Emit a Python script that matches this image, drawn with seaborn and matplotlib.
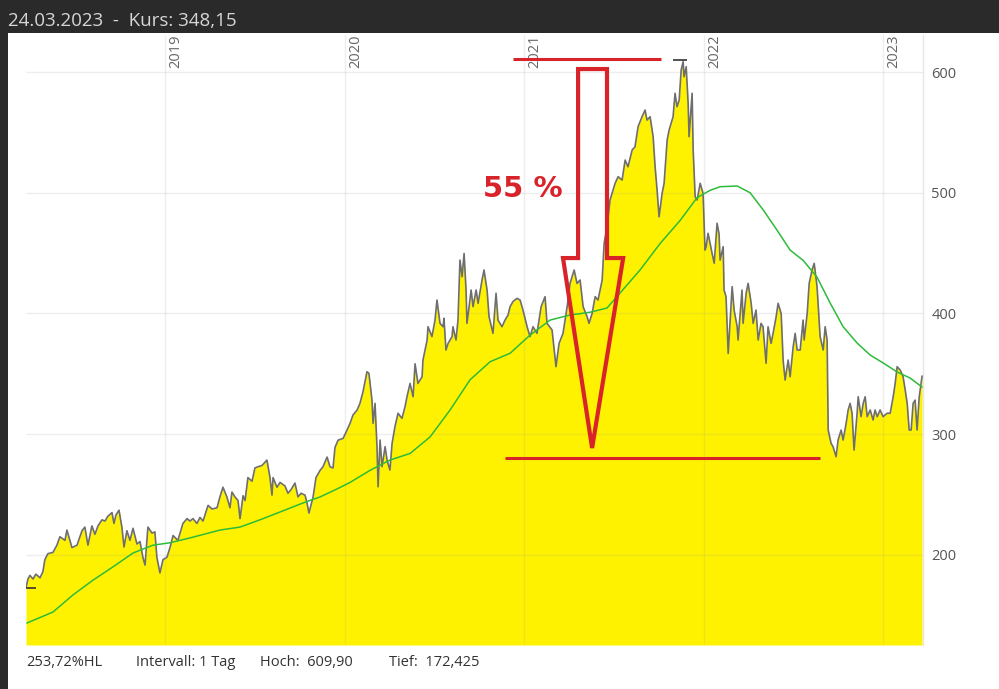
import matplotlib
matplotlib.use("Agg")
import matplotlib.pyplot as plt
from matplotlib.patches import Polygon, Rectangle
import seaborn as sns
import pandas as pd

# ---------------- data ----------------
price_t = [
    2018.226, 2018.237, 2018.248, 2018.265, 2018.281, 2018.304, 2018.320, 2018.331, 2018.348, 2018.376,
    2018.398, 2018.415, 2018.443, 2018.454, 2018.482, 2018.510, 2018.538, 2018.554, 2018.571, 2018.593,
    2018.610, 2018.627, 2018.649, 2018.666, 2018.682, 2018.705, 2018.716, 2018.727, 2018.744, 2018.760,
    2018.772, 2018.788, 2018.805, 2018.822, 2018.844, 2018.861, 2018.877, 2018.889, 2018.905, 2018.928,
    2018.944, 2018.955, 2018.972, 2018.989, 2019.011, 2019.028, 2019.045, 2019.072, 2019.100, 2019.123,
    2019.139, 2019.156, 2019.178, 2019.195, 2019.212, 2019.240, 2019.262, 2019.290, 2019.306, 2019.323,
    2019.345, 2019.362, 2019.373, 2019.390, 2019.407, 2019.418, 2019.435, 2019.446, 2019.462, 2019.485,
    2019.501, 2019.518, 2019.540, 2019.568, 2019.585, 2019.596, 2019.602, 2019.624, 2019.641, 2019.669,
    2019.685, 2019.702, 2019.724, 2019.741, 2019.758, 2019.780, 2019.791, 2019.802, 2019.825, 2019.841,
    2019.864, 2019.880, 2019.903, 2019.919, 2019.936, 2019.947, 2019.964, 2019.992, 2020.014, 2020.031,
    2020.047, 2020.070, 2020.086, 2020.103, 2020.125, 2020.136, 2020.153, 2020.159, 2020.170, 2020.181,
    2020.187, 2020.198, 2020.209, 2020.226, 2020.237, 2020.253, 2020.265, 2020.281, 2020.298, 2020.320,
    2020.337, 2020.348, 2020.365, 2020.382, 2020.393, 2020.409, 2020.432, 2020.437, 2020.460, 2020.465,
    2020.487, 2020.504, 2020.515, 2020.532, 2020.549, 2020.554, 2020.565, 2020.577, 2020.599, 2020.604,
    2020.621, 2020.632, 2020.643, 2020.655, 2020.666, 2020.677, 2020.682, 2020.694, 2020.705, 2020.716,
    2020.733, 2020.744, 2020.766, 2020.777, 2020.794, 2020.805, 2020.827, 2020.844, 2020.855, 2020.877,
    2020.894, 2020.911, 2020.922, 2020.939, 2020.961, 2020.978, 2020.994, 2021.017, 2021.033, 2021.050,
    2021.072, 2021.095, 2021.117, 2021.128, 2021.156, 2021.178, 2021.195, 2021.217, 2021.240, 2021.256,
    2021.279, 2021.295, 2021.312, 2021.329, 2021.351, 2021.362, 2021.379, 2021.396, 2021.412, 2021.435,
    2021.446, 2021.462, 2021.479, 2021.507, 2021.524, 2021.546, 2021.563, 2021.579, 2021.602, 2021.618,
    2021.635, 2021.657, 2021.674, 2021.685, 2021.702, 2021.719, 2021.730, 2021.741, 2021.752, 2021.769,
    2021.780, 2021.797, 2021.808, 2021.830, 2021.841, 2021.852, 2021.864, 2021.875, 2021.886, 2021.891,
    2021.903, 2021.914, 2021.919, 2021.936, 2021.942, 2021.953, 2021.964, 2021.981, 2021.997, 2022.008,
    2022.014, 2022.025, 2022.047, 2022.059, 2022.075, 2022.086, 2022.092, 2022.109, 2022.114, 2022.125,
    2022.137, 2022.159, 2022.170, 2022.187, 2022.192, 2022.214, 2022.220, 2022.237, 2022.248, 2022.265,
    2022.276, 2022.292, 2022.304, 2022.320, 2022.331, 2022.348, 2022.359, 2022.376, 2022.387, 2022.404,
    2022.415, 2022.432, 2022.443, 2022.454, 2022.471, 2022.482, 2022.499, 2022.510, 2022.521, 2022.538,
    2022.554, 2022.560, 2022.577, 2022.588, 2022.604, 2022.616, 2022.632, 2022.649, 2022.666, 2022.677,
    2022.688, 2022.694, 2022.710, 2022.721, 2022.738, 2022.749, 2022.766, 2022.777, 2022.794, 2022.805,
    2022.816, 2022.827, 2022.838, 2022.855, 2022.861, 2022.877, 2022.889, 2022.900, 2022.911, 2022.928,
    2022.944, 2022.955, 2022.967, 2022.983, 2023.000, 2023.022, 2023.039, 2023.056, 2023.067, 2023.078,
    2023.095, 2023.111, 2023.123, 2023.134, 2023.145, 2023.156, 2023.167, 2023.178, 2023.189, 2023.201,
    2023.217,
]
price_v = [
    173, 180, 183, 180, 184, 181, 186, 196, 201, 202,
    208, 215, 212, 220.5, 206, 208, 220, 223, 208, 224,
    217, 224, 229, 228, 232, 235, 226, 233, 237, 223,
    206.5, 220, 212, 222, 209, 211, 198, 191.5, 223, 218,
    219, 198, 185, 196, 198, 206, 216, 212, 226, 230,
    228, 230, 226, 231, 228, 241, 238, 239, 248, 256,
    248, 239, 252, 248, 245, 230, 249, 245, 264, 261,
    272, 273, 274, 278.5, 264, 249.5, 264, 256, 260, 257,
    251, 254, 259.5, 248, 251, 249.5, 243, 234.6, 248, 264,
    270, 273, 281, 273, 272, 289, 295, 296.5, 303.4, 309,
    315.8, 320, 325.5, 335.1, 351.7, 350.4, 328.3, 309, 325.5, 289.6,
    256.4, 295.1, 273, 289.6, 278.5, 270.3, 292.4, 306.2, 317.3, 313.1,
    322.7, 331, 342, 331, 358.3, 342, 347.6, 361.4, 378, 389,
    380.8, 394.5, 411.1, 391.8, 389, 396, 369.7, 375.2, 380.8, 389,
    378, 394.5, 444.2, 430.4, 449.7, 419.4, 391.8, 405.6, 419.4, 405.6,
    419.4, 408.4, 427.7, 436, 419.4, 397.3, 383.5, 416.7, 394.5, 389,
    394.5, 398.7, 405.6, 410, 412.5, 411.1, 402.8, 389, 380.8, 389,
    383.5, 405.6, 413.9, 391.8, 386.3, 355.9, 375.2, 383.5, 405.6, 424.9,
    436, 424.9, 427.7, 405.6, 397.3, 391.8, 400, 413.9, 411.1, 427.7,
    458, 471.8, 494, 507.8, 513.3, 510.5, 527.1, 521.5, 535.4, 538.1,
    554.7, 563, 568.5, 560.2, 563, 546.4, 521.5, 502.2, 480.1, 499.5,
    507.8, 543.7, 552, 563, 582.4, 571.3, 576.8, 601.7, 608.6, 596.1,
    604.4, 574, 546.4, 582.4, 535.4, 496.7, 494, 507.8, 499.5, 452.5,
    455, 466.4, 450, 441.6, 474.7, 466, 444.2, 455.3, 419.4, 413.9,
    366.9, 422.2, 402.8, 389, 378, 419.4, 391.8, 416.7, 424.9, 408.4,
    391.8, 402.8, 378, 391.8, 389, 358.7, 389, 375.2, 383.5, 397.3,
    408.4, 400, 361.4, 344.8, 361.4, 347.6, 372.5, 383.5, 369.7, 369.7,
    394.5, 378, 400, 424.9, 436, 441.5, 422.2, 380.8, 369.7, 389,
    378, 303.4, 292.4, 289.6, 281.3, 295.1, 303.4, 295.1, 309, 320,
    325.5, 317.3, 286.8, 317.3, 331, 314.5, 325.5, 331, 314.5, 320,
    311.7, 320, 314.5, 320, 314.5, 317.3, 317.3, 331, 342, 355.9,
    353.1, 347.6, 336.5, 325.5, 303.4, 303.4, 325.5, 328.2, 303.4, 331,
    348.15,
]

ma_t = [
    2018.231, 2018.376, 2018.487, 2018.599, 2018.710, 2018.822, 2018.933, 2019.028, 2019.139, 2019.306,
    2019.418, 2019.529, 2019.641, 2019.769, 2019.864, 2019.964, 2020.031, 2020.142, 2020.253, 2020.365,
    2020.476, 2020.588, 2020.699, 2020.811, 2020.922, 2021.033, 2021.145, 2021.256, 2021.368, 2021.462,
    2021.535, 2021.646, 2021.758, 2021.869, 2021.964, 2022.036, 2022.092, 2022.187, 2022.259, 2022.331,
    2022.409, 2022.482, 2022.554, 2022.632, 2022.705, 2022.777, 2022.855, 2022.928, 2023.000, 2023.078,
    2023.150, 2023.217,
]
ma_v = [
    143.5, 152.6, 166.7, 179, 190, 201.5, 208, 210, 214, 220.5,
    223, 229, 235.5, 243, 248, 255, 260, 270, 278.5, 284,
    297.6, 320, 345, 360, 367, 382, 394.5, 398.7, 401, 404.5,
    417, 436, 458, 477, 496, 502, 505, 505.6, 500, 486,
    469, 452.5, 444, 430, 408.6, 389, 375.5, 365.5, 359, 351.5,
    346.5, 339,
]

year_ticks = [2019, 2020, 2021, 2022, 2023]
year_labels = ["2019", "2020", "2021", "2022", "2023"]
y_ticks = [200, 300, 400, 500, 600]
y_labels = ["200", "300", "400", "500", "600"]

header_text = "24.03.2023  -  Kurs: 348,15"
footer_texts = ["253,72%HL", "Intervall: 1 Tag", "Hoch:  609,90", "Tief:  172,425"]
high_value, high_t = 609.9, 2021.869
low_value, low_t = 172.425, 2018.237
pct_label = "55 %"
top_level, top_span = 610.8, (2020.939, 2021.761)
bottom_level, bottom_span = 280.2, (2020.894, 2022.649)

# ---------------- figure ----------------
sns.set_theme(style="white")
plt.rcParams["font.family"] = ["Open Sans", "DejaVu Sans"]

W, H = 999, 689
fig = plt.figure(figsize=(W / 100, H / 100), dpi=100)
fig.patch.set_facecolor("white")

DARK = "#2a2a2a"
# dark frame: top band + left strip
fig.add_artist(Rectangle((0, 1 - 33 / H), 1, 33 / H, transform=fig.transFigure,
                         facecolor=DARK, edgecolor="none", zorder=0))
fig.add_artist(Rectangle((0, 0), 7.5 / W, 1, transform=fig.transFigure,
                         facecolor=DARK, edgecolor="none", zorder=0))
fig.text(8 / W, 1 - 26 / H, header_text, color="#d6d6d6", fontsize=13.5,
         ha="left", va="baseline")

ax_left, ax_right = 26 / W, 923 / W
ax_top, ax_bottom = 1 - 35 / H, 1 - 645 / H
ax = fig.add_axes([ax_left, ax_bottom, ax_right - ax_left, ax_top - ax_bottom])
ax.set_facecolor("white")

ylo, yhi = 125.3, 630.7
ax.set_xlim(2018.226, 2023.222)
ax.set_ylim(ylo, yhi)

df_p = pd.DataFrame({"t": price_t, "v": price_v})
df_m = pd.DataFrame({"t": ma_t, "v": ma_v})

ax.fill_between(df_p["t"], df_p["v"], ylo, color="#fff200", linewidth=0, zorder=1)
sns.lineplot(data=df_p, x="t", y="v", ax=ax, color="#6e6e6e", linewidth=1.2, zorder=4)
sns.lineplot(data=df_m, x="t", y="v", ax=ax, color="#2dbb3a", linewidth=1.1, zorder=5)

# grid
for yv in y_ticks:
    ax.axhline(yv, color="#9a9a9a", alpha=0.16, linewidth=1, zorder=3)
for xv in year_ticks:
    ax.axvline(xv, color="#9a9a9a", alpha=0.16, linewidth=1, zorder=3)

# high / low markers
ax.plot([high_t], [high_value], marker="_", markersize=10, color="#333333",
        markeredgewidth=1.2, zorder=6)
ax.plot([low_t], [low_value], marker="_", markersize=12, color="#333333",
        markeredgewidth=1.2, zorder=6)

# axes styling
ax.set_xlabel("")
ax.set_ylabel("")
ax.set_xticks([])
ax.yaxis.tick_right()
ax.set_yticks(y_ticks)
ax.set_yticklabels(y_labels)
ax.tick_params(axis="y", length=0, pad=6, labelsize=10.5, labelcolor="#555555")
for s in ["left", "top", "bottom"]:
    ax.spines[s].set_visible(False)
ax.spines["right"].set_color("#e6e6e6")
ax.spines["right"].set_linewidth(1)

for xv, lab in zip(year_ticks, year_labels):
    ax.annotate(lab, xy=(xv, 1.0), xycoords=("data", "axes fraction"),
                xytext=(2.5, 0), textcoords="offset points", rotation=90,
                ha="left", va="top", fontsize=10.5, color="#666666", zorder=7)

# red annotations
RED = "#d9232a"
ax.plot(top_span, [top_level, top_level], color=RED, linewidth=2.2, zorder=8,
        solid_capstyle="butt")
ax.plot(bottom_span, [bottom_level, bottom_level], color=RED, linewidth=2.2, zorder=8,
        solid_capstyle="butt")
arrow_pts = [(2021.301, 602.5), (2021.462, 602.5), (2021.462, 445.9), (2021.552, 445.9),
             (2021.379, 288.5), (2021.217, 445.9), (2021.301, 445.9)]
ax.add_patch(Polygon(arrow_pts, closed=True, fill=False, edgecolor=RED,
                     linewidth=3, joinstyle="miter", zorder=8))
ax.text(2020.992, 503.0, pct_label, color=RED, fontsize=21, fontweight="bold",
        ha="center", va="center", family=["DejaVu Sans"], zorder=9)

# footer
footer_x = [26, 136, 260, 389]
for fx, txt in zip(footer_x, footer_texts):
    fig.text(fx / W, 1 - 666 / H, txt, color="#333333", fontsize=10.5,
             ha="left", va="baseline")

fig.savefig("out.png", dpi=100)
